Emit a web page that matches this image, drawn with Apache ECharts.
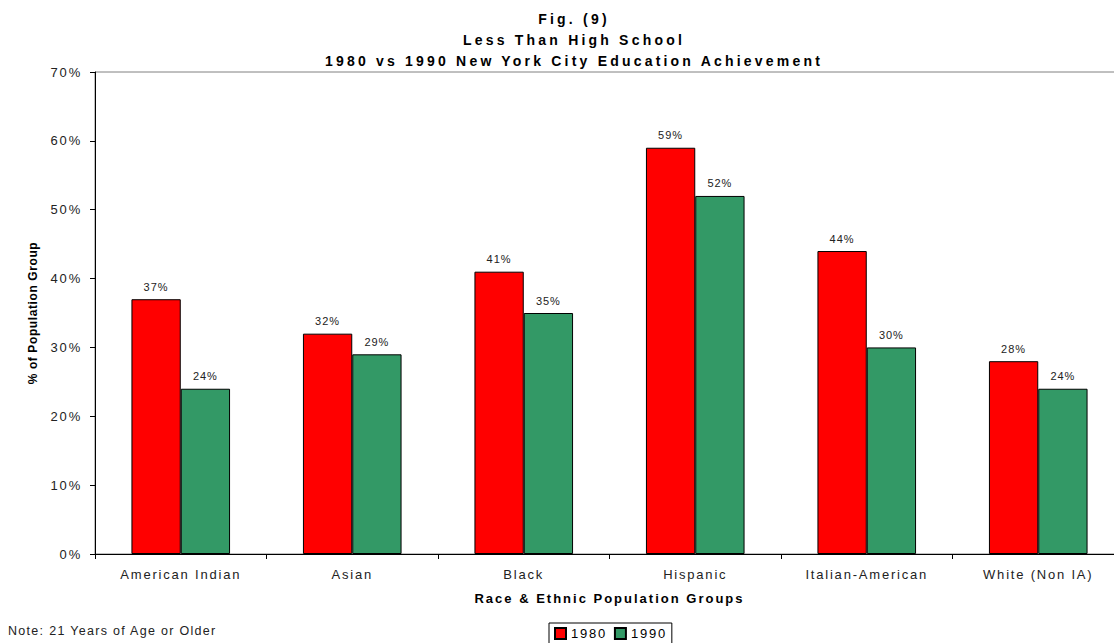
<!DOCTYPE html>
<html>
<head>
<meta charset="utf-8">
<script src="https://cdn.jsdelivr.net/npm/echarts@6/dist/echarts.min.js"></script>
<style>
html,body{margin:0;padding:0;background:#fff;}
#chart{width:1114px;height:643px;}
#chart svg text{letter-spacing:1.8px;}
#chart svg text[style*="14px"]{letter-spacing:3.2px;}
#chart svg text[style*="bold"][style*="13px"]{letter-spacing:2px;}
#chart svg text[style*="bold"][style*="12px"]{letter-spacing:0.6px;}
#chart svg text[style*="12.5px"]{letter-spacing:1.3px;}
#chart svg text[style*="11px"]{letter-spacing:1px;}
</style>
</head>
<body>
<div id="chart"></div>
<script>
var categories = ['American Indian', 'Asian', 'Black', 'Hispanic', 'Italian-American', 'White (Non IA)'];
var values1980 = [37, 32, 41, 59, 44, 28];
var values1990 = [24, 29, 35, 52, 30, 24];
var seriesNames = ['1980', '1990'];
var yTicks = [0, 10, 20, 30, 40, 50, 60, 70];

var FONT = "'Liberation Sans', Arial, sans-serif";
var chart = echarts.init(document.getElementById('chart'), null, {renderer: 'svg'});

var labelOpt = {
  show: true, position: 'top', distance: 7,
  fontSize: 11, fontFamily: FONT, color: '#222',
  formatter: function (p) { return p.value + '%'; }
};

chart.setOption({
  animation: false,
  backgroundColor: '#fff',
  textStyle: {fontFamily: FONT},
  title: {
    text: 'Fig. (9)\nLess Than High School\n1980 vs 1990 New York City Education Achievement',
    left: 569, top: 3, textAlign: 'center',
    textStyle: {fontSize: 14, fontWeight: 'bold', fontFamily: FONT, color: '#000', lineHeight: 21}
  },
  legend: {
    data: seriesNames,
    left: 549, top: 623,
    orient: 'horizontal',
    icon: 'rect', itemWidth: 11, itemHeight: 11, itemGap: 14,
    padding: [4, 12, 4, 5],
    borderColor: '#000', borderWidth: 1,
    textStyle: {fontSize: 13, fontFamily: FONT, color: '#000'}
  },
  grid: {
    left: 95, right: -10, top: 72, bottom: 89,
    show: true, borderColor: '#808080', borderWidth: 1, backgroundColor: 'transparent',
    outerBoundsMode: 'none', containLabel: false
  },
  xAxis: {
    type: 'category',
    data: categories,
    name: 'Race & Ethnic Population Groups',
    nameLocation: 'middle', nameGap: 38,
    nameTextStyle: {fontSize: 13, fontWeight: 'bold', fontFamily: FONT, color: '#000'},
    axisLine: {show: true, lineStyle: {color: '#000', width: 1}},
    axisTick: {show: true, length: 5, lineStyle: {color: '#000'}},
    axisLabel: {fontSize: 13, fontFamily: FONT, color: '#222', margin: 14},
    splitLine: {show: false}
  },
  yAxis: {
    type: 'value', min: 0, max: 70, interval: 10,
    name: '% of Population Group',
    nameLocation: 'middle', nameGap: 56,
    nameTextStyle: {fontSize: 12, fontWeight: 'bold', fontFamily: FONT, color: '#000'},
    axisLine: {show: true, lineStyle: {color: '#000', width: 1}},
    axisTick: {show: true, length: 5, lineStyle: {color: '#000'}},
    axisLabel: {fontSize: 13, fontFamily: FONT, color: '#222', margin: 13,
      formatter: function (v) { return yTicks.indexOf(v) >= 0 ? v + '%' : ''; }},
    splitLine: {show: false}
  },
  series: [
    {
      name: seriesNames[0], type: 'bar', data: values1980,
      barGap: '0%', barCategoryGap: '42.5%',
      itemStyle: {color: '#FF0000', borderColor: '#000', borderWidth: 1},
      label: labelOpt
    },
    {
      name: seriesNames[1], type: 'bar', data: values1990,
      itemStyle: {color: '#339966', borderColor: '#000', borderWidth: 1},
      label: labelOpt
    }
  ],
  graphic: [{
    type: 'text', left: 8, top: 624,
    style: {text: 'Note: 21 Years of Age or Older', fontSize: 12.5, fontFamily: FONT, fill: '#222'}
  }]
});
</script>
</body>
</html>
